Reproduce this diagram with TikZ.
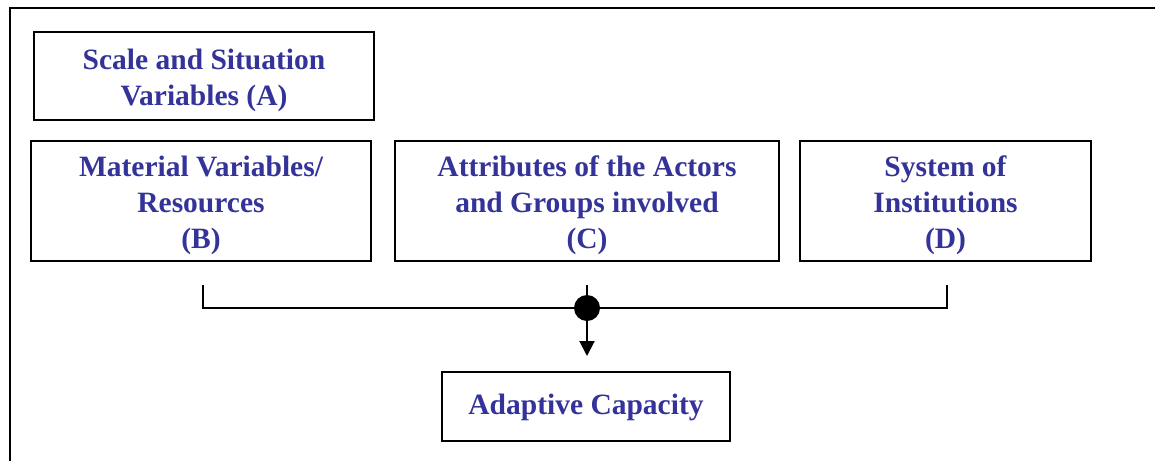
\documentclass[tikz,border=0pt]{standalone}
\usepackage{fontspec}
\setmainfont{Liberation Serif}
\usetikzlibrary{arrows.meta}
\definecolor{txtblue}{RGB}{51,51,153}
\tikzset{
  box/.style={draw=black, line width=2pt, inner sep=0pt},
  lbl/.style={align=center, text=txtblue,
    font=\fontsize{29.5}{36}\selectfont\bfseries, inner sep=0pt},
  link/.style={line width=2pt},
}
\begin{document}
\begin{tikzpicture}[x=1pt,y=-1pt]
\useasboundingbox (0,0) rectangle (1155,461);
\draw[line width=2pt] (10,461) -- (10,8) -- (1155,8);
% boxes
\node[box, minimum width=340pt, minimum height=88pt] (A) at (204,76) {};
\node[box, minimum width=340pt, minimum height=120pt] (B) at (201,201) {};
\node[box, minimum width=384pt, minimum height=120pt] (C) at (587,201) {};
\node[box, minimum width=291pt, minimum height=120pt] (D) at (945.5,201) {};
\node[box, minimum width=288pt, minimum height=69pt] (E) at (586,406.5) {};
% labels
\node[lbl] (tA) at ([yshift=-4pt]A.center) {Scale and Situation\\Variables (A)};
\node[lbl] (tB) at ([yshift=-4.5pt]B.center) {Material Variables/\\Resources\\(B)};
\node[lbl] (tC) at ([yshift=-4.5pt]C.center) {Attributes of the Actors\\and Groups involved\\(C)};
\node[lbl] (tD) at ([yshift=-4.5pt]D.center) {System of\\Institutions\\(D)};
\node[lbl] (tE) at ([yshift=-1pt]E.center) {Adaptive Capacity};
% connectors
\coordinate (bt) at (203,285);
\coordinate (ct) at (587,285);
\coordinate (dt) at (947,285);
\coordinate (bb) at (203,308);
\coordinate (dd) at (947,308);
\coordinate (j) at (587,308);
\coordinate (tip) at (587,356);
\draw[link] (bt) -- (bb) -- (dd) -- (dt);
\draw[link] (ct) -- (j);
\draw[link, -{Triangle[width=15pt,length=15pt]}] (j) -- (tip);
\fill (j) circle (13pt);
\end{tikzpicture}
\end{document}
